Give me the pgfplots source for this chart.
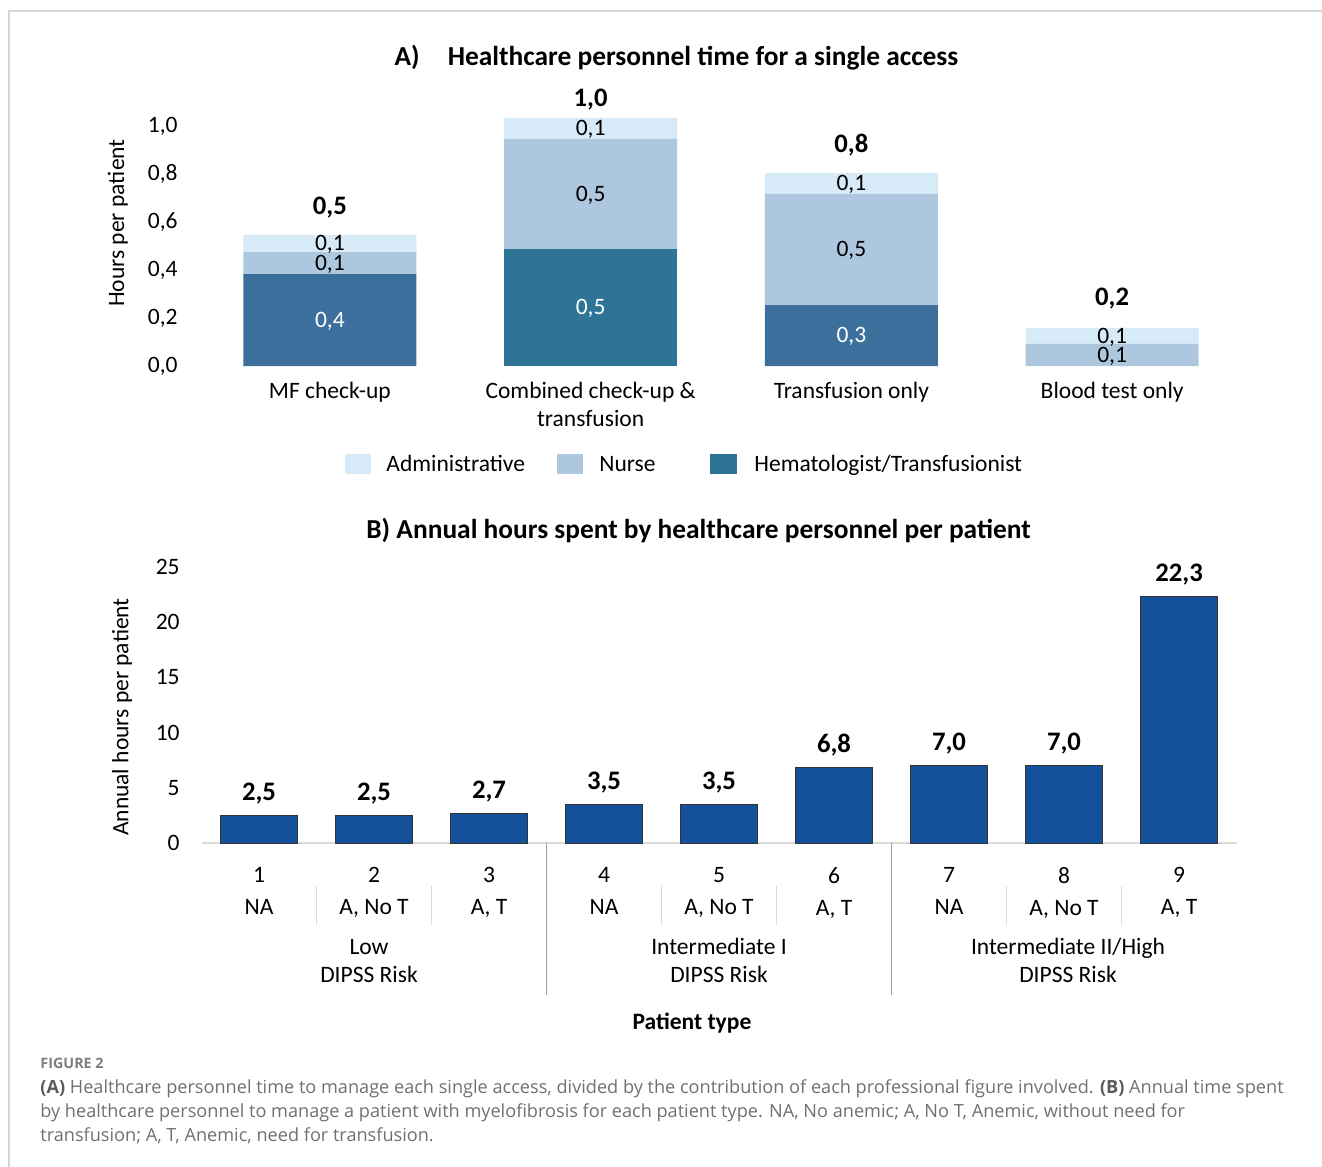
\documentclass[border=0pt]{standalone}
\usepackage{fontspec}
\setmainfont{Carlito}
\newfontfamily\capfont{Open Sans}
\usepackage{pgfplots}
\pgfplotsset{compat=1.18}
\usepackage{pgfplotstable}

\definecolor{adminc}{RGB}{214,234,247}
\definecolor{nursec}{RGB}{173,199,223}
\definecolor{hemblue}{RGB}{61,111,156}
\definecolor{hemteal}{RGB}{46,116,151}
\definecolor{barblue}{RGB}{21,81,155}
\definecolor{capgray}{RGB}{112,112,112}
\definecolor{framegray}{RGB}{214,214,214}
\definecolor{sepgray}{RGB}{160,160,160}
\definecolor{seplight}{RGB}{218,218,218}

\newcommand\bodyfont{\fontsize{11.8}{14}\selectfont}
\newcommand\boldnum{\bfseries\fontsize{13.4}{15}\selectfont}
\newcommand\titlefont{\bfseries\fontsize{13.75}{15}\selectfont}

% hours per single access, split by professional figure
\pgfplotstableread{
x  hemA   hemB   nurse  admin
0  0.383  0      0.092  0.071
1  0      0.488  0.458  0.088
2  0.254  0      0.463  0.087
3  0      0      0.092  0.067
}\accesstable

% annual hours per patient, by patient type
\pgfplotstableread{
x  hours
1  2.5
2  2.5
3  2.7
4  3.5
5  3.5
6  6.8
7  7.0
8  7.0
9  22.3
}\annualtable

\tikzset{
  seglab/.style={font=\bodyfont, anchor=base, yshift=-3.7bp, inner sep=0pt},
  totlab/.style={font=\boldnum, anchor=base, inner sep=0pt},
}

\begin{document}
\begin{tikzpicture}
% canvas in half-point units, y pointing down
\begin{scope}[x=0.5bp,y=-0.5bp]
  \path[use as bounding box] (0,0) rectangle (1322,1167);
  \draw[framegray, line width=0.75bp] (8,11) -- (1322,11);
  \draw[framegray, line width=0.75bp] (9,11) -- (9,1167);
\end{scope}

% ---------------- Panel A ----------------
\begin{axis}[
  at={(99.75bp,-183bp)}, anchor=south west,
  scale only axis, width=521.5bp, height=144bp,
  xmin=-0.5, xmax=3.5, ymin=0, ymax=1.2,
  ybar stacked, bar width=0.663,
  axis line style={draw=none}, tick style={draw=none},
  clip=false,
  xtick={0,1,2,3},
  xticklabels={MF check-up, {Combined check-up \&\\transfusion}, Transfusion only, Blood test only},
  xticklabel style={align=center, anchor=north, inner sep=0pt, yshift=-8bp,
    font=\fontsize{11.8}{14}\selectfont},
  ytick={0,0.2,0.4,0.6,0.8,1},
  scaled y ticks=false,
  yticklabel style={anchor=east, inner sep=0pt, xshift=-10.75bp, font=\bodyfont,
    /pgf/number format/fixed, /pgf/number format/fixed zerofill,
    /pgf/number format/precision=1, /pgf/number format/use comma,
    /pgf/number format/assume math mode=true},
]
\addplot[fill=hemblue, draw=none] table[x=x, y=hemA] {\accesstable};
\addplot[fill=hemteal, draw=none] table[x=x, y=hemB] {\accesstable};
\addplot[fill=nursec, draw=none] table[x=x, y=nurse] {\accesstable};
\addplot[fill=adminc, draw=none] table[x=x, y=admin] {\accesstable};

% anchor points for the value labels (segment centres and bar tops)
\coordinate (h0) at (axis cs:0,0.1915);
\coordinate (n0) at (axis cs:0,0.429);
\coordinate (a0) at (axis cs:0,0.5105);
\coordinate (h1) at (axis cs:1,0.244);
\coordinate (n1) at (axis cs:1,0.717);
\coordinate (a1) at (axis cs:1,0.990);
\coordinate (h2) at (axis cs:2,0.127);
\coordinate (n2) at (axis cs:2,0.4855);
\coordinate (a2) at (axis cs:2,0.7605);
\coordinate (n3) at (axis cs:3,0.046);
\coordinate (a3) at (axis cs:3,0.1255);
\coordinate (t0) at (axis cs:0,0.546);
\coordinate (t1) at (axis cs:1,1.034);
\coordinate (t2) at (axis cs:2,0.804);
\coordinate (t3) at (axis cs:3,0.159);
\end{axis}

% segment values
\node[seglab, text=white] at (h0) {0,4};
\node[seglab] at (n0) {0,1};
\node[seglab] at (a0) {0,1};
\node[seglab, text=white] at (h1) {0,5};
\node[seglab] at (n1) {0,5};
\node[seglab] at (a1) {0,1};
\node[seglab, text=white] at (h2) {0,3};
\node[seglab] at (n2) {0,5};
\node[seglab] at (a2) {0,1};
\node[seglab] at (n3) {0,1};
\node[seglab] at (a3) {0,1};
% totals
\node[totlab, yshift=10bp] at (t0) {0,5};
\node[totlab, yshift=5.5bp] at (t1) {1,0};
\node[totlab, yshift=10.5bp] at (t2) {0,8};
\node[totlab, yshift=11bp] at (t3) {0,2};

% ---------------- Panel B ----------------
\begin{axis}[
  at={(100.75bp,-421.5bp)}, anchor=south west,
  scale only axis, width=517.5bp, height=138bp,
  xmin=0.5, xmax=9.5, ymin=0, ymax=25,
  ybar, bar width=0.67,
  axis line style={draw=none}, tick style={draw=none},
  clip=false,
  xtick={1,2,3,4,5,6,7,8,9},
  xticklabels={{1\\NA},{2\\A, No T},{3\\A, T},{4\\NA},{5\\A, No T},{6\\A, T},{7\\NA},{8\\A, No T},{9\\A, T}},
  xticklabel style={align=center, anchor=north, inner sep=0pt, yshift=-7.75bp,
    font=\fontsize{11.8}{16}\selectfont},
  ytick={0,5,10,15,20,25},
  yticklabel style={anchor=east, inner sep=0pt, xshift=-10.75bp, font=\bodyfont,
    /pgf/number format/assume math mode=true},
  nodes near coords,
  nodes near coords style={font=\boldnum, anchor=base, inner sep=0pt, yshift=7.5bp,
    /pgf/number format/fixed, /pgf/number format/fixed zerofill,
    /pgf/number format/precision=1, /pgf/number format/use comma,
    /pgf/number format/assume math mode=true},
]
\draw[seplight, line width=0.75bp] (axis cs:0.5,0) -- (axis cs:9.5,0);
\addplot[fill=barblue, draw=black!80, line width=0.5bp] table[x=x, y=hours] {\annualtable};
% separators between patient types and risk groups
\pgfplotsinvokeforeach{1.5,2.5,4.5,5.5,7.5,8.5}{
  \draw[seplight, line width=0.6bp] (axis cs:#1,0) ++(0pt,-21.5bp) -- ++(0pt,-19.5bp);
}
\pgfplotsinvokeforeach{3.5,6.5}{
  \draw[sepgray, line width=0.6bp] (axis cs:#1,0) -- ++(0pt,-76bp);
}
\end{axis}

% ---------------- Text, legend, caption ----------------
\begin{scope}[x=0.5bp,y=-0.5bp]
  \node[font=\titlefont, anchor=base] at (676.5,66) {A)\hspace{14bp}Healthcare personnel time for a single access};
  \node[font=\titlefont, anchor=base] at (698.5,538) {B) Annual hours spent by healthcare personnel per patient};
  \node[font=\bodyfont, rotate=90] at (118,223) {Hours per patient};
  \node[font=\bodyfont, rotate=90] at (122,717) {Annual hours per patient};

  % legend
  \fill[adminc] (345,454) rectangle (371,474);
  \node[font=\bodyfont, anchor=base west, inner sep=0pt] at (386,471) {Administrative};
  \fill[nursec] (557,454) rectangle (583,474);
  \node[font=\bodyfont, anchor=base west, inner sep=0pt] at (599,471) {Nurse};
  \fill[hemteal] (710,454) rectangle (737,474);
  \node[font=\bodyfont, anchor=base west, inner sep=0pt] at (754,471) {Hematologist/Transfusionist};

  % risk groups
  \foreach \cx/\name in {369/Low, 719/{Intermediate I}, 1068/{Intermediate II/High}}{
    \node[font=\bodyfont, anchor=base, inner sep=0pt] at (\cx,954) {\name};
    \node[font=\bodyfont, anchor=base, inner sep=0pt] at (\cx,982) {DIPSS Risk};
  }
  \node[font=\bfseries\fontsize{11.8}{14}\selectfont, anchor=base] at (692,1029) {Patient type};

  % caption
  \node[font=\capfont\bfseries\fontsize{7.2}{8}\selectfont, text=capgray!90, anchor=base west, inner sep=0pt] at (40,1068) {FIGURE 2};
  \begin{scope}[every node/.style={font=\capfont\fontsize{9.1}{11}\selectfont, text=capgray, anchor=base west, inner sep=0pt}]
    \node at (40,1093) {{\bfseries\color{capgray!80!black}(A)} Healthcare personnel time to manage each single access, divided by the contribution of each professional figure involved. {\bfseries\color{capgray!80!black}(B)} Annual time spent};
    \node at (40,1117) {by healthcare personnel to manage a patient with myelofibrosis for each patient type. NA, No anemic; A, No T, Anemic, without need for};
    \node at (40,1141) {transfusion; A, T, Anemic, need for transfusion.};
  \end{scope}
\end{scope}
\end{tikzpicture}
\end{document}
